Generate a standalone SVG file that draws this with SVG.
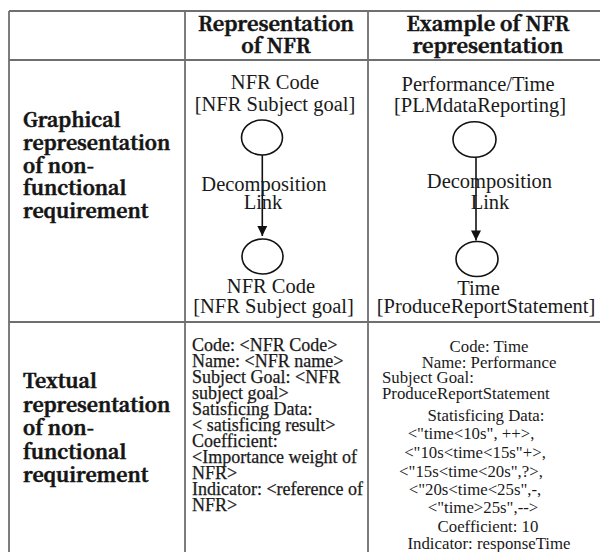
<svg xmlns="http://www.w3.org/2000/svg" width="600" height="552" viewBox="0 0 600 552">
  <style>
    .grid { stroke: #6f6f6f; stroke-width: 1.8; fill: none; }
    .bs { font-family: 'Noto Serif CJK SC', 'Liberation Serif', serif; font-weight: bold; font-size: 19.5px; fill: #141414; stroke: #141414; stroke-width: 0.55; }
    .hd { font-size: 20px; }
    .g { font-family: 'Liberation Serif', serif; font-size: 20.5px; fill: #1a1a1a; text-anchor: middle; }
    .t2 { font-family: 'Liberation Serif', serif; font-size: 18px; fill: #1a1a1a; stroke: #1a1a1a; stroke-width: 0.25; }
    .t3 { font-family: 'Liberation Serif', serif; font-size: 16.8px; fill: #1a1a1a; }
    .mid { text-anchor: middle; }
    .node { fill: #ffffff; stroke: #111111; stroke-width: 1.6; }
    .edge { stroke: #111111; stroke-width: 1.6; fill: none; }
  </style>
  <defs>
    <marker id="arrow" viewBox="0 0 10 10" refX="10" refY="5" markerWidth="12" markerHeight="10" markerUnits="userSpaceOnUse" orient="auto">
      <path d="M0,0 L10,5 L0,10 Z" fill="#111111"/>
    </marker>
  </defs>
  <rect width="600" height="552" fill="#ffffff"/>

  <g id="table">
    <line class="grid" x1="9" y1="11" x2="600" y2="11"/>
    <line class="grid" x1="9" y1="60" x2="600" y2="60"/>
    <line class="grid" x1="9" y1="322" x2="600" y2="322"/>
    <line class="grid" x1="9" y1="11" x2="9" y2="552"/>
    <line class="grid" x1="185" y1="11" x2="185" y2="552"/>
    <line class="grid" x1="368" y1="11" x2="368" y2="552"/>
  </g>

  <g id="headers">
    <text class="bs hd mid" x="276" y="31">Representation</text>
    <text class="bs hd mid" x="276" y="53">of NFR</text>
    <text class="bs hd mid" x="488" y="31">Example of NFR</text>
    <text class="bs hd mid" x="488" y="53">representation</text>
  </g>

  <g id="row-graphical">
    <text class="bs" x="23" y="127">Graphical</text>
    <text class="bs" x="23" y="150">representation</text>
    <text class="bs" x="23" y="172.5">of non-</text>
    <text class="bs" x="23" y="195">functional</text>
    <text class="bs" x="23" y="218">requirement</text>
  </g>
  <g id="row-textual">
    <text class="bs" x="23" y="388">Textual</text>
    <text class="bs" x="23" y="411.5">representation</text>
    <text class="bs" x="23" y="435">of non-</text>
    <text class="bs" x="23" y="458.5">functional</text>
    <text class="bs" x="23" y="482">requirement</text>
  </g>

  <g id="node-nfr-parent">
    <text class="g" x="275" y="89">NFR Code</text>
    <text class="g" x="275" y="111">[NFR Subject goal]</text>
    <ellipse class="node" cx="262" cy="137.5" rx="20.5" ry="17.5"/>
  </g>
  <g id="node-nfr-child">
    <ellipse class="node" cx="262.5" cy="256.5" rx="20.5" ry="17.5"/>
    <text class="g" x="271" y="293">NFR Code</text>
    <text class="g" x="273.5" y="313">[NFR Subject goal]</text>
  </g>

  <g id="node-perf-time">
    <text class="g" x="478" y="90.5">Performance/Time</text>
    <text class="g" x="480" y="111.5">[PLMdataReporting]</text>
    <ellipse class="node" cx="474.5" cy="139.5" rx="21.5" ry="17.8"/>
  </g>
  <g id="node-time">
    <ellipse class="node" cx="477" cy="259" rx="21" ry="17.5"/>
    <text class="g" x="478.5" y="295">Time</text>
    <text class="g" x="486" y="313">[ProduceReportStatement]</text>
  </g>

  <g id="connectors">
    <line class="edge" x1="262.3" y1="155" x2="262.3" y2="236" marker-end="url(#arrow)"/>
    <text class="g" x="264" y="191">Decomposition</text>
    <text class="g" x="263" y="209">Link</text>
    <line class="edge" x1="476" y1="157.3" x2="476" y2="240.5" marker-end="url(#arrow)"/>
    <text class="g" x="489.5" y="188">Decomposition</text>
    <text class="g" x="490" y="209">Link</text>
  </g>

  <g id="text-generic">
    <text class="t2" x="192" y="351">Code: &lt;NFR Code&gt;</text>
    <text class="t2" x="192" y="367">Name: &lt;NFR name&gt;</text>
    <text class="t2" x="192" y="383">Subject Goal: &lt;NFR</text>
    <text class="t2" x="192" y="398.5">subject goal&gt;</text>
    <text class="t2" x="192" y="414.5">Satisficing Data:</text>
    <text class="t2" x="192" y="430.5">&lt; satisficing result&gt;</text>
    <text class="t2" x="192" y="446.5">Coefficient:</text>
    <text class="t2" x="192" y="462.5">&lt;Importance weight of</text>
    <text class="t2" x="192" y="478.5">NFR&gt;</text>
    <text class="t2" x="192" y="494.5">Indicator: &lt;reference of</text>
    <text class="t2" x="192" y="510.5">NFR&gt;</text>
  </g>

  <g id="text-example">
    <text class="t3 mid" x="489" y="352">Code: Time</text>
    <text class="t3 mid" x="489" y="367.5">Name: Performance</text>
    <text class="t3" x="382" y="383">Subject Goal:</text>
    <text class="t3" x="382" y="399">ProduceReportStatement</text>
    <text class="t3 mid" x="486" y="421">Statisficing Data:</text>
    <text class="t3 mid" x="471" y="439">&lt;"time&lt;10s", ++&gt;,</text>
    <text class="t3 mid" x="475" y="458">&lt;"10s&lt;time&lt;15s"+&gt;,</text>
    <text class="t3 mid" x="471" y="476.5">&lt;"15s&lt;time&lt;20s",?&gt;,</text>
    <text class="t3 mid" x="475" y="495">&lt;"20s&lt;time&lt;25s",-,</text>
    <text class="t3 mid" x="483" y="513">&lt;"time&gt;25s",--&gt;</text>
    <text class="t3 mid" x="488" y="532">Coefficient: 10</text>
    <text class="t3 mid" x="489" y="549">Indicator: responseTime</text>
  </g>
</svg>
